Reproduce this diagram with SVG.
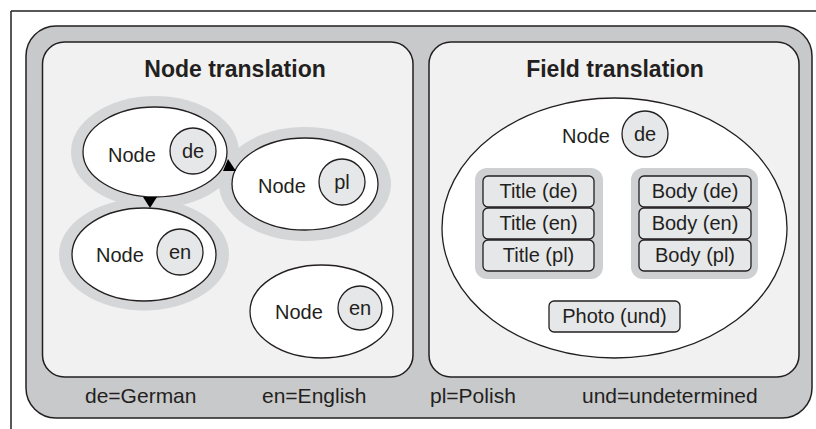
<svg xmlns="http://www.w3.org/2000/svg" width="816" height="429" viewBox="0 0 816 429">
<style>
.frame{fill:#c8c9cb;stroke:#231f20;stroke-width:1.5}
.panel{fill:#f1f1f1;stroke:#231f20;stroke-width:1.5}
.halo{fill:#d5d6d8;stroke:none}
.node{fill:#ffffff;stroke:#231f20;stroke-width:1.3}
.lang{fill:#e6e7e8;stroke:#231f20;stroke-width:1.3}
.field{fill:#e6e7e8;stroke:#231f20;stroke-width:1.3}
.grp{fill:#cfd0d2;stroke:none}
text{font-family:"Liberation Sans",Arial,sans-serif;fill:#231f20}
.t{font-size:20px}
.l{font-size:21px}
.c{font-size:20px;text-anchor:middle}
.h{font-size:23px;font-weight:bold;text-anchor:middle}
.arrow{fill:#000000;stroke:none}
</style>
<line x1="11" y1="11" x2="816" y2="11" stroke="#231f20" stroke-width="1.5"/>
<line x1="11" y1="11" x2="11" y2="429" stroke="#231f20" stroke-width="1.5"/>
<rect class="frame" x="26" y="26" width="786" height="392" rx="30"/>
<g id="panel-node">
<rect class="panel" x="42.5" y="42" width="370.5" height="335" rx="22"/>
<text class="h" x="235" y="77">Node translation</text>
</g>
<g id="panel-field">
<rect class="panel" x="429" y="42" width="370" height="335" rx="22"/>
<text class="h" x="615" y="77">Field translation</text>
</g>
<g id="halos">
<ellipse class="halo" cx="155" cy="152" rx="84" ry="56"/>
<ellipse class="halo" cx="305" cy="184" rx="86" ry="57"/>
<ellipse class="halo" cx="144" cy="254.5" rx="85" ry="56"/>
</g>
<g id="node-de">
<ellipse class="node" cx="155" cy="152" rx="72" ry="45"/>
<text class="t" x="108" y="162">Node</text>
<circle class="lang" cx="193" cy="151" r="23"/>
<text class="c" x="193" y="158">de</text>
</g>
<g id="node-pl">
<ellipse class="node" cx="305" cy="184" rx="73" ry="46"/>
<text class="t" x="258" y="193">Node</text>
<circle class="lang" cx="342" cy="182" r="23"/>
<text class="c" x="342" y="189">pl</text>
</g>
<g id="node-en-1">
<ellipse class="node" cx="144" cy="254.5" rx="72" ry="46.5"/>
<text class="t" x="96" y="262">Node</text>
<circle class="lang" cx="180" cy="252" r="23"/>
<text class="c" x="180" y="259">en</text>
</g>
<g id="node-en-2">
<ellipse class="node" cx="321.5" cy="311.5" rx="71.5" ry="46.5"/>
<text class="t" x="275" y="319">Node</text>
<circle class="lang" cx="360" cy="308" r="22"/>
<text class="c" x="360" y="315">en</text>
</g>
<g id="connectors">
<path class="arrow" d="M143,197 L157,197 L150,208 Z"/>
<path class="arrow" d="M228,159 L236,171 L223,171 Z"/>
</g>
<g id="node-field">
<ellipse class="node" cx="614.5" cy="228" rx="172.5" ry="130"/>
<text class="t" x="562" y="143">Node</text>
<circle class="lang" cx="645" cy="134" r="23"/>
<text class="c" x="645" y="141">de</text>
</g>
<g id="title-fields">
<rect class="grp" x="475" y="168" width="128" height="111" rx="12"/>
<rect class="field" x="483" y="176" width="111" height="31" rx="5"/>
<text class="c" x="538.5" y="198">Title (de)</text>
<rect class="field" x="483" y="208" width="111" height="31" rx="5"/>
<text class="c" x="538.5" y="230">Title (en)</text>
<rect class="field" x="483" y="240" width="111" height="31" rx="5"/>
<text class="c" x="538.5" y="262">Title (pl)</text>
</g>
<g id="body-fields">
<rect class="grp" x="631" y="168" width="127" height="111" rx="12"/>
<rect class="field" x="639" y="176" width="112" height="31" rx="5"/>
<text class="c" x="695" y="198">Body (de)</text>
<rect class="field" x="639" y="208" width="112" height="31" rx="5"/>
<text class="c" x="695" y="230">Body (en)</text>
<rect class="field" x="639" y="240" width="112" height="31" rx="5"/>
<text class="c" x="695" y="262">Body (pl)</text>
</g>
<g id="photo-field">
<rect class="field" x="549" y="301" width="131" height="31" rx="5"/>
<text class="c" x="614.5" y="323">Photo (und)</text>
</g>
<g id="legend">
<text class="l" x="85" y="403">de=German</text>
<text class="l" x="262" y="403">en=English</text>
<text class="l" x="430" y="403">pl=Polish</text>
<text class="l" x="582" y="403">und=undetermined</text>
</g>
</svg>
